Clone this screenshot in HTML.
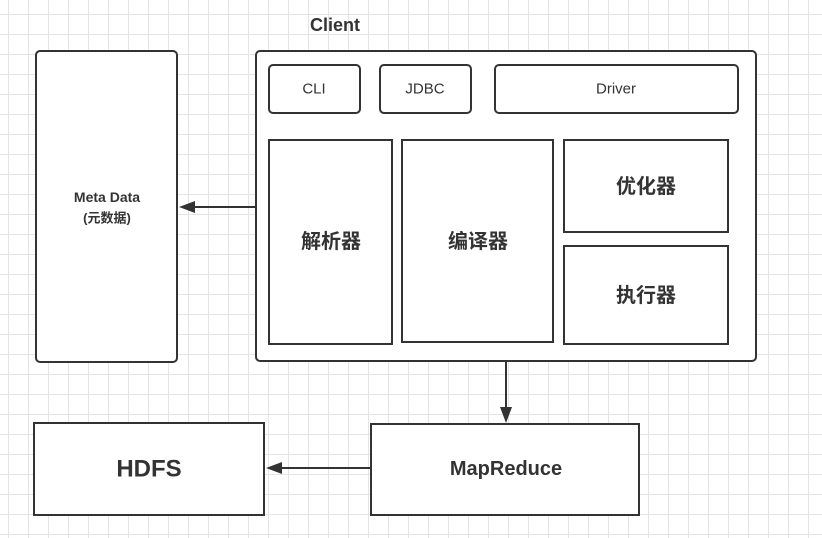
<!DOCTYPE html>
<html><head><meta charset="utf-8"><style>
body{margin:0;background:#fff}
svg{display:block}
text{font-family:"Liberation Sans","Noto Sans CJK SC",sans-serif;fill:#333;text-anchor:middle;dominant-baseline:central}
</style></head><body>
<svg width="822" height="538" xmlns="http://www.w3.org/2000/svg">
<defs>
<pattern id="g" x="8" y="14" width="20" height="20" patternUnits="userSpaceOnUse">
<path d="M0.5 0V20M0 0.5H20" stroke="#e4e4e4" stroke-width="1" fill="none"/>
</pattern>
</defs>
<rect width="822" height="538" fill="url(#g)"/>
<g fill="#fff" stroke="#333" stroke-width="2">
<rect x="36" y="51" width="141" height="311" rx="4"/>
<rect x="256" y="51" width="500" height="310" rx="4"/>
<rect x="269" y="65" width="91" height="48" rx="4"/>
<rect x="380" y="65" width="91" height="48" rx="4"/>
<rect x="495" y="65" width="243" height="48" rx="4"/>
<rect x="269" y="140" width="123" height="204"/>
<rect x="402" y="140" width="151" height="202"/>
<rect x="564" y="140" width="164" height="92"/>
<rect x="564" y="246" width="164" height="98"/>
<rect x="34" y="423" width="230" height="92"/>
<rect x="371" y="424" width="268" height="91"/>
</g>
<g stroke="#333" stroke-width="2">
<line x1="256" y1="207" x2="192" y2="207"/>
<line x1="506" y1="362" x2="506" y2="410"/>
<line x1="371" y1="468" x2="280" y2="468"/>
</g>
<g fill="#333">
<polygon points="179,207 195,201 195,213"/>
<polygon points="506,423 500,407 512,407"/>
<polygon points="266,468 282,462 282,474"/>
</g>
<text x="335" y="25" font-size="18" font-weight="bold">Client</text>
<text x="314" y="89" font-size="15">CLI</text>
<text x="425" y="89" font-size="15">JDBC</text>
<text x="616" y="89" font-size="15">Driver</text>
<text x="107" y="197" font-size="14" font-weight="bold">Meta Data</text>
<text x="107" y="218" font-size="13" font-weight="bold">(元数据)</text>
<text x="331" y="242" font-size="20" font-weight="bold">解析器</text>
<text x="478" y="242" font-size="20" font-weight="bold">编译器</text>
<text x="646" y="187" font-size="20" font-weight="bold">优化器</text>
<text x="646" y="296" font-size="20" font-weight="bold">执行器</text>
<text x="149" y="469" font-size="24" font-weight="bold">HDFS</text>
<text x="506" y="469" font-size="20" font-weight="bold">MapReduce</text>
</svg>
</body></html>
